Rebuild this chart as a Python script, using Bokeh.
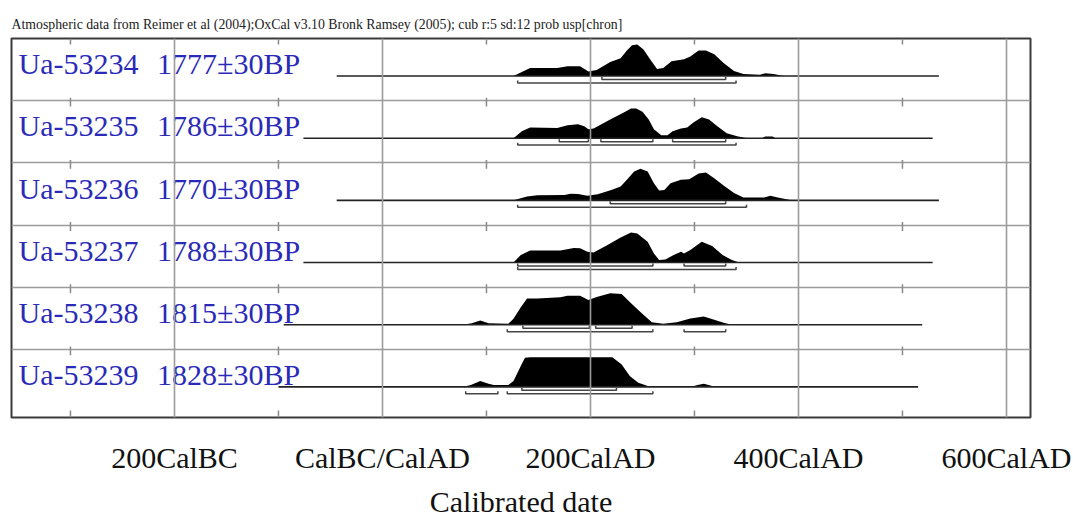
from bokeh.plotting import figure
from bokeh.models import Range1d, FixedTicker
from bokeh.core.properties import value
from bokeh.embed import file_html
from bokeh.resources import INLINE

# ---------------- data ----------------
SOURCE_NOTE = ("Atmospheric data from Reimer et al (2004);OxCal v3.10 Bronk Ramsey (2005); "
               "cub r:5 sd:12 prob usp[chron]")
X_TITLE = "Calibrated date"
TICK_YEARS = [-200, 0, 200, 400, 600]
TICK_LABELS = ["200CalBC", "CalBC/CalAD", "200CalAD", "400CalAD", "600CalAD"]
MINOR_YEARS = [-300, -100, 100, 300, 500]

SAMPLE_IDS = ["Ua-53234", "Ua-53235", "Ua-53236", "Ua-53237", "Ua-53238", "Ua-53239"]
SAMPLE_DATES = ["1777±30BP", "1786±30BP", "1770±30BP", "1788±30BP", "1815±30BP", "1828±30BP"]

# extent of the thin line drawn under each distribution (calendar years)
LINE_START = [-44, -76, -44, -76, -95, -100]
LINE_END = [535, 529, 535, 529, 519, 515]

# calibrated probability distributions (relative probability, %)
P1_YEARS = [126, 142, 168, 178, 190, 198, 206, 219, 229, 235, 240, 245, 251, 258, 264,
            270, 278, 290, 296, 304, 311, 319, 328, 338, 347, 363, 368, 376, 386]
P1_PROB = [0, 25, 25, 31, 31, 14, 19, 44, 56, 81, 97, 100, 84, 50, 22,
           25, 47, 53, 62, 81, 81, 69, 41, 16, 6, 4, 9, 6, 0]

P2_YEARS = [126, 134, 142, 168, 178, 188, 194, 198, 203, 219, 232, 239, 244, 250, 256,
            261, 268, 274, 279, 287, 293, 299, 307, 314, 322, 331, 341, 347, 351,
            365, 368, 375, 378]
P2_PROB = [0, 22, 34, 32, 41, 44, 38, 28, 31, 59, 81, 94, 94, 84, 59,
           28, 9, 9, 22, 31, 34, 50, 66, 59, 38, 16, 6, 2, 0,
           0, 5, 5, 0]

P3_YEARS = [126, 139, 149, 175, 181, 188, 197, 207, 220, 229, 235, 242, 248, 255, 261,
            266, 271, 277, 287, 295, 304, 311, 319, 328, 338, 347, 367, 373, 380, 391, 392]
P3_PROB = [0, 12, 16, 17, 21, 20, 15, 19, 33, 44, 65, 91, 100, 91, 54,
           31, 33, 54, 65, 67, 85, 88, 70, 47, 23, 9, 9, 15, 9, 2, 0]

P4_YEARS = [126, 133, 142, 171, 184, 190, 197, 203, 216, 229, 239, 245, 255, 261, 266,
            272, 280, 287, 290, 296, 307, 317, 327, 336, 343]
P4_PROB = [0, 24, 38, 38, 46, 45, 34, 32, 55, 79, 95, 92, 66, 29, 8,
           10, 24, 34, 29, 40, 66, 52, 24, 8, 0]

P5_YEARS = [77, 86, 94, 102, 121, 126, 133, 139, 149, 171, 178, 190, 198, 206, 219,
            230, 238, 248, 259, 270, 283, 296, 309, 319, 328, 336]
P5_PROB = [0, 5, 13, 5, 3, 19, 55, 83, 83, 87, 92, 92, 78, 88, 100,
           97, 71, 40, 8, 3, 8, 20, 26, 16, 6, 0]

P6_YEARS = [77, 85, 94, 102, 107, 121, 126, 133, 137, 142, 221, 230, 238, 246, 258,
            296, 303, 309, 317, 322]
P6_PROB = [0, 6, 19, 10, 6, 6, 19, 66, 92, 94, 94, 71, 34, 13, 0,
           0, 6, 10, 3, 0]

PROB_YEARS = [P1_YEARS, P2_YEARS, P3_YEARS, P4_YEARS, P5_YEARS, P6_YEARS]
PROB_VALUES = [P1_PROB, P2_PROB, P3_PROB, P4_PROB, P5_PROB, P6_PROB]

# highest probability ranges (start, end) in calendar years
RANGE68 = [[(211, 330)],
           [(170, 198), (210, 260), (279, 330)],
           [(219, 330)],
           [(130, 260), (290, 330)],
           [(135, 199), (205, 240)],
           [(134, 225)]]
RANGE95 = [[(130, 340)],
           [(130, 340)],
           [(130, 350)],
           [(130, 340)],
           [(120, 260), (290, 330)],
           [(80, 111), (120, 260)]]

# ---------------- layout / style ----------------
W, H = 1073, 520
BORDER_L, BORDER_R, BORDER_T, BORDER_B = 11, 43, 38, 98
FRAME_H = H - BORDER_T - BORDER_B          # 384 px, y data unit = 1 px
X_START, X_END = -356.7, 623.1
PX_PER_YEAR = (W - BORDER_L - BORDER_R) / (X_END - X_START)
ROW_TOPS = [0, 63, 126, 189, 252, 315]
BASE_OFFSET = 38
LABEL_MID = 25.5
PEAK_PX = 32.0
SERIF = "Liberation Serif"
GRID_COL = "#9c9c9c"
BLUE = "#2a2ab8"

p = figure(width=W, height=H, output_backend="svg", toolbar_location=None,
           x_range=Range1d(X_START, X_END), y_range=Range1d(FRAME_H, 0),
           y_axis_type=None,
           min_border_left=BORDER_L, min_border_right=BORDER_R,
           min_border_top=BORDER_T, min_border_bottom=BORDER_B)
p.background_fill_color = "white"
p.border_fill_color = "white"
p.outline_line_color = "#3a3a3a"
p.outline_line_width = 2

# title (source note)
p.title.text = SOURCE_NOTE
p.title.text_font = SERIF
p.title.text_font_size = "13.8px"
p.title.text_font_style = "normal"
p.title.text_color = "#222222"
p.title.align = "left"
p.title.standoff = 13

# x axis
ax = p.xaxis[0]
ax.ticker = FixedTicker(ticks=TICK_YEARS)
ax.major_label_overrides = {t: l for t, l in zip(TICK_YEARS, TICK_LABELS)}
ax.axis_line_color = None
ax.major_tick_line_color = None
ax.minor_tick_line_color = None
ax.major_tick_out = 0
ax.major_tick_in = 0
ax.major_label_standoff = 23
ax.major_label_text_font = SERIF
ax.major_label_text_font_size = "30px"
ax.major_label_text_color = "#111111"
ax.axis_label = X_TITLE
ax.axis_label_text_font = SERIF
ax.axis_label_text_font_size = "30px"
ax.axis_label_text_font_style = "normal"
ax.axis_label_text_color = "#111111"
ax.axis_label_standoff = 8

# grid (vertical lines at labelled years, drawn on top)
p.ygrid.visible = False
p.xgrid.ticker = FixedTicker(ticks=TICK_YEARS)
p.xgrid.grid_line_color = GRID_COL
p.xgrid.grid_line_width = 1.6
p.xgrid.level = "overlay"

# row separators
p.hspan(y=ROW_TOPS[1:], line_color=GRID_COL, line_width=1.6)

# minor ticks at each row boundary
tx, ty0, ty1 = [], [], []
for yr in MINOR_YEARS:
    for i, top in enumerate(ROW_TOPS):
        tx.append(yr)
        ty0.append(top if i == 0 else top - 3)
        ty1.append(top + 6)
    tx.append(yr)
    ty0.append(FRAME_H - 7)
    ty1.append(FRAME_H)
p.segment(x0=tx, x1=tx, y0=ty0, y1=ty1, line_color="#8a8a8a", line_width=1.5)

scale = PEAK_PX / 100.0
for i in range(6):
    base = ROW_TOPS[i] + BASE_OFFSET
    yrs = PROB_YEARS[i]
    prob = PROB_VALUES[i]
    p.varea(x=yrs, y1=[base] * len(yrs), y2=[base - v * scale for v in prob],
            fill_color="black")
    p.segment(x0=[LINE_START[i]], x1=[LINE_END[i]], y0=[base], y1=[base],
              line_color="#222222", line_width=1.6)
    xs, ys = [], []
    for (a, b) in RANGE68[i]:
        xs.append([a, a, b, b])
        ys.append([base + 1, base + 3.5, base + 3.5, base + 1])
    for (a, b) in RANGE95[i]:
        xs.append([a, a, b, b])
        ys.append([base + 4.5, base + 7, base + 7, base + 4.5])
    p.multi_line(xs=xs, ys=ys, line_color="#444444", line_width=1.5)

# sample labels
id_x = X_START + 7 / PX_PER_YEAR
date_x = X_START + 145.5 / PX_PER_YEAR
label_y = [t + LABEL_MID for t in ROW_TOPS]
p.text(x=[id_x] * 6, y=label_y, text=SAMPLE_IDS, text_font=value(SERIF),
       text_font_size=value("30px"), text_color=BLUE, text_baseline="middle",
       text_align="left")
p.text(x=[date_x] * 6, y=label_y, text=SAMPLE_DATES, text_font=value(SERIF),
       text_font_size=value("30px"), text_color=BLUE, text_baseline="middle",
       text_align="left")

open("out.html", "w").write(file_html(p, INLINE))
